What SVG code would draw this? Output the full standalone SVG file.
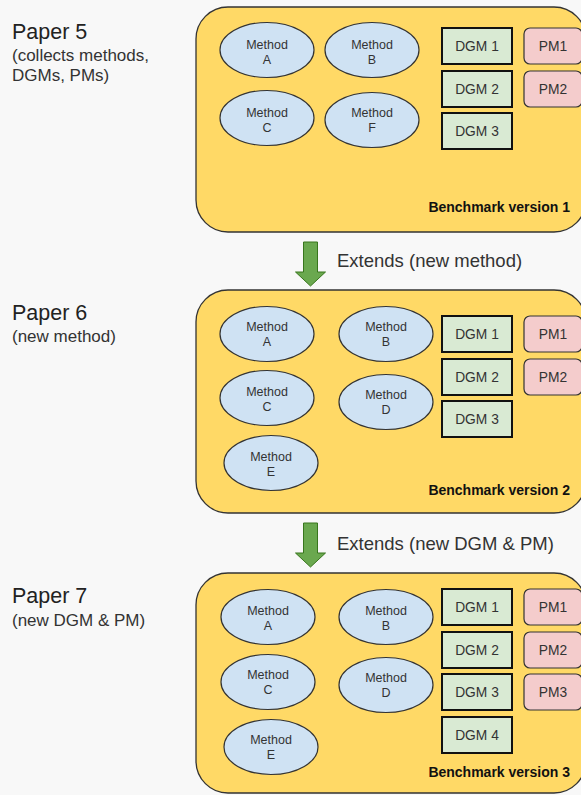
<svg xmlns="http://www.w3.org/2000/svg" width="581" height="795" viewBox="0 0 581 795">
  <defs>
    <style>
      text { font-family: "Liberation Sans", Arial, sans-serif; fill: #222; }
      .panel { fill: #ffd966; stroke: #333; stroke-width: 1.3; }
      .method { fill: #cfe2f3; stroke: #333; stroke-width: 1.2; }
      .mtext { font-size: 12.5px; text-anchor: middle; fill: #333; }
      .dgm { fill: #d9ead3; stroke: #111; stroke-width: 2; }
      .pm { fill: #f4cccc; stroke: #333; stroke-width: 1.2; }
      .btext { font-size: 13.8px; text-anchor: middle; fill: #333; }
      .bench { font-size: 14px; font-weight: bold; text-anchor: end; fill: #111; }
      .paper { font-size: 21.5px; }
      .sub { font-size: 17px; fill: #333; }
      .ext { font-size: 18.5px; fill: #333; }
      .arrow { fill: #6aa84f; stroke: #38761d; stroke-width: 1; }
    </style>
    <g id="m">
      <ellipse class="method" cx="0" cy="0" rx="47" ry="27.5"/>
    </g>
  </defs>

  <rect width="581" height="795" fill="#f8f8f8"/>

  <!-- paper captions -->
  <g id="paper5">
    <text class="paper" x="12" y="39">Paper 5</text>
    <text class="sub" x="12" y="61">(collects methods,</text>
    <text class="sub" x="12" y="81">DGMs, PMs)</text>
  </g>
  <g id="paper6">
    <text class="paper" x="12" y="320">Paper 6</text>
    <text class="sub" x="12" y="342">(new method)</text>
  </g>
  <g id="paper7">
    <text class="paper" x="12" y="603">Paper 7</text>
    <text class="sub" x="12" y="626">(new DGM &amp; PM)</text>
  </g>

  <!-- benchmark version 1 -->
  <g id="benchmark1">
    <rect class="panel" x="196" y="7" width="390" height="225" rx="32"/>
    <g id="b1-methodA"><use href="#m" x="267" y="50"/><text class="mtext" x="267" y="49">Method</text><text class="mtext" x="267" y="64">A</text></g>
    <g id="b1-methodB"><use href="#m" x="372" y="50"/><text class="mtext" x="372" y="49">Method</text><text class="mtext" x="372" y="64">B</text></g>
    <g id="b1-methodC"><use href="#m" x="267" y="118"/><text class="mtext" x="267" y="117">Method</text><text class="mtext" x="267" y="132">C</text></g>
    <g id="b1-methodF"><use href="#m" x="372" y="120"/><text class="mtext" x="372" y="117">Method</text><text class="mtext" x="372" y="132">F</text></g>
    <g id="b1-dgm1"><rect class="dgm" x="442" y="28" width="70" height="36"/><text class="btext" x="477" y="51">DGM 1</text></g>
    <g id="b1-dgm2"><rect class="dgm" x="442" y="71" width="70" height="36"/><text class="btext" x="477" y="94">DGM 2</text></g>
    <g id="b1-dgm3"><rect class="dgm" x="442" y="113" width="70" height="36"/><text class="btext" x="477" y="136">DGM 3</text></g>
    <g id="b1-pm1"><rect class="pm" x="524" y="28" width="58" height="36" rx="6"/><text class="btext" x="553" y="51">PM1</text></g>
    <g id="b1-pm2"><rect class="pm" x="524" y="71" width="58" height="36" rx="6"/><text class="btext" x="553" y="94">PM2</text></g>
    <text class="bench" x="570" y="212">Benchmark version 1</text>
  </g>

  <!-- benchmark version 2 -->
  <g id="benchmark2">
    <rect class="panel" x="196" y="290" width="390" height="223" rx="32"/>
    <g id="b2-methodA"><use href="#m" x="267" y="334"/><text class="mtext" x="267" y="331">Method</text><text class="mtext" x="267" y="346">A</text></g>
    <g id="b2-methodB"><use href="#m" x="386" y="334"/><text class="mtext" x="386" y="331">Method</text><text class="mtext" x="386" y="346">B</text></g>
    <g id="b2-methodC"><use href="#m" x="267" y="398"/><text class="mtext" x="267" y="396">Method</text><text class="mtext" x="267" y="411">C</text></g>
    <g id="b2-methodD"><use href="#m" x="386" y="402"/><text class="mtext" x="386" y="399">Method</text><text class="mtext" x="386" y="414">D</text></g>
    <g id="b2-methodE"><use href="#m" x="271" y="463"/><text class="mtext" x="271" y="461">Method</text><text class="mtext" x="271" y="476">E</text></g>
    <g id="b2-dgm1"><rect class="dgm" x="442" y="316" width="70" height="36"/><text class="btext" x="477" y="339">DGM 1</text></g>
    <g id="b2-dgm2"><rect class="dgm" x="442" y="359" width="70" height="36"/><text class="btext" x="477" y="382">DGM 2</text></g>
    <g id="b2-dgm3"><rect class="dgm" x="442" y="401" width="70" height="36"/><text class="btext" x="477" y="424">DGM 3</text></g>
    <g id="b2-pm1"><rect class="pm" x="524" y="316" width="58" height="36" rx="6"/><text class="btext" x="553" y="339">PM1</text></g>
    <g id="b2-pm2"><rect class="pm" x="524" y="359" width="58" height="36" rx="6"/><text class="btext" x="553" y="382">PM2</text></g>
    <text class="bench" x="570" y="495">Benchmark version 2</text>
  </g>

  <!-- benchmark version 3 -->
  <g id="benchmark3">
    <rect class="panel" x="196" y="573" width="390" height="220" rx="32"/>
    <g id="b3-methodA"><use href="#m" x="268" y="617"/><text class="mtext" x="268" y="615">Method</text><text class="mtext" x="268" y="630">A</text></g>
    <g id="b3-methodB"><use href="#m" x="386" y="617"/><text class="mtext" x="386" y="615">Method</text><text class="mtext" x="386" y="630">B</text></g>
    <g id="b3-methodC"><use href="#m" x="268" y="682"/><text class="mtext" x="268" y="679">Method</text><text class="mtext" x="268" y="694">C</text></g>
    <g id="b3-methodD"><use href="#m" x="386" y="685"/><text class="mtext" x="386" y="682">Method</text><text class="mtext" x="386" y="697">D</text></g>
    <g id="b3-methodE"><use href="#m" x="271" y="747"/><text class="mtext" x="271" y="744">Method</text><text class="mtext" x="271" y="759">E</text></g>
    <g id="b3-dgm1"><rect class="dgm" x="442" y="589" width="70" height="36"/><text class="btext" x="477" y="612">DGM 1</text></g>
    <g id="b3-dgm2"><rect class="dgm" x="442" y="632" width="70" height="36"/><text class="btext" x="477" y="655">DGM 2</text></g>
    <g id="b3-dgm3"><rect class="dgm" x="442" y="674" width="70" height="36"/><text class="btext" x="477" y="697">DGM 3</text></g>
    <g id="b3-dgm4"><rect class="dgm" x="442" y="717" width="70" height="36"/><text class="btext" x="477" y="740">DGM 4</text></g>
    <g id="b3-pm1"><rect class="pm" x="524" y="589" width="58" height="36" rx="6"/><text class="btext" x="553" y="612">PM1</text></g>
    <g id="b3-pm2"><rect class="pm" x="524" y="632" width="58" height="36" rx="6"/><text class="btext" x="553" y="655">PM2</text></g>
    <g id="b3-pm3"><rect class="pm" x="524" y="674" width="58" height="36" rx="6"/><text class="btext" x="553" y="697">PM3</text></g>
    <text class="bench" x="570" y="777">Benchmark version 3</text>
  </g>

  <!-- connectors between versions -->
  <g id="connectors">
    <g id="extends1">
      <path class="arrow" d="M303.5,242 H317.5 V272 H325.5 L310.5,286 L295.5,272 H303.5 Z"/>
      <text class="ext" x="337" y="267">Extends (new method)</text>
    </g>
    <g id="extends2">
      <path class="arrow" d="M303.5,523 H317.5 V553 H325.5 L310.5,567 L295.5,553 H303.5 Z"/>
      <text class="ext" x="337" y="550">Extends (new DGM &amp; PM)</text>
    </g>
  </g>
</svg>
